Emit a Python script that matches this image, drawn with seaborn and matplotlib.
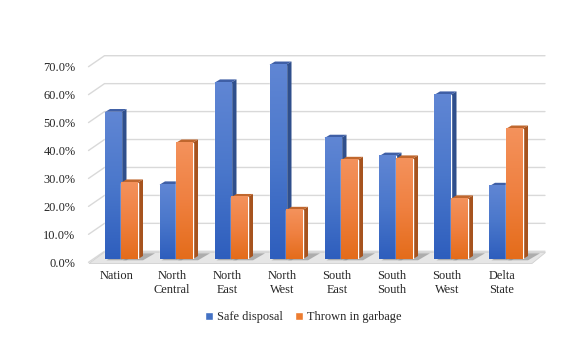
import numpy as np
import pandas as pd
import matplotlib
matplotlib.use("Agg")
import matplotlib.pyplot as plt
import seaborn as sns
from matplotlib.patches import Polygon, Rectangle
from matplotlib.transforms import IdentityTransform, ScaledTranslation
from matplotlib.colors import LinearSegmentedColormap

# ---- data ----
regions = ["Nation", "North\nCentral", "North\nEast", "North\nWest",
           "South\nEast", "South\nSouth", "South\nWest", "Delta\nState"]
safe_disposal = [52.6, 26.7, 63.2, 69.6, 43.4, 37.0, 58.9, 26.2]
thrown_in_garbage = [27.4, 41.7, 22.2, 17.6, 35.5, 36.0, 21.7, 46.7]
series_names = ["Safe disposal", "Thrown in garbage"]
y_ticks = [0, 10, 20, 30, 40, 50, 60, 70]

df = pd.DataFrame({
    "Region": regions * 2,
    "Series": [series_names[0]] * len(regions) + [series_names[1]] * len(regions),
    "Value": safe_disposal + thrown_in_garbage,
})

# ---- style ----
sns.set_theme(style="white")
plt.rcParams["font.family"] = ["Liberation Serif", "DejaVu Serif"]
FS = 8.9

W, H, DPI = 577, 338, 100
fig = plt.figure(figsize=(W / DPI, H / DPI), dpi=DPI)
fig.patch.set_facecolor("white")

# axes = plane of the bar fronts
ax_left, ax_right = 93.5, 533.5
ax_top, ax_bot = 63.7, 259.3
ax = fig.add_axes([ax_left / W, (H - ax_bot) / H, (ax_right - ax_left) / W, (ax_bot - ax_top) / H])
ax.set_facecolor("none")

blue_c = "#4472C4"
orange_c = "#ED7D31"
sns.barplot(data=df, x="Region", y="Value", hue="Series", palette=[blue_c, orange_c],
            width=0.6, ax=ax, saturation=1, errorbar=None)
ax.set_xlim(-0.5, len(regions) - 0.5)
ax.set_ylim(0, 70)
for s in ax.spines.values():
    s.set_visible(False)
ax.set_xlabel("")
ax.set_ylabel("")
ax.set_yticks(y_ticks)
ax.set_yticklabels([f"{v:.1f}%" for v in y_ticks], fontsize=FS)
ax.tick_params(axis="both", length=0)
ax.tick_params(axis="y", pad=13)
ax.tick_params(axis="x", pad=8, labelsize=FS)
ax.grid(False)

# shift tick labels to the front plane
for lab in ax.get_xticklabels():
    lab.set_transform(lab.get_transform() + ScaledTranslation(-4 / DPI, 0, fig.dpi_scale_trans))
for lab in ax.get_yticklabels():
    lab.set_transform(lab.get_transform() + ScaledTranslation(0, -3 / DPI, fig.dpi_scale_trans))

ident = IdentityTransform()

def to_disp(x_top, y_top):
    return (x_top, H - y_top)

# back wall gridlines (left wall slant + back wall horizontal)
for v in y_ticks:
    _, yd = ax.transData.transform((0, v))
    y_front = yd - 3
    y_back = yd + 8
    xs = [ax_left - 5, ax_left + 11, ax_right + 11.5]
    ys = [y_front, y_back, y_back]
    ax.add_line(plt.Line2D(xs, ys, transform=ident, color="#D9D9D9", lw=1.0,
                           clip_on=False, zorder=0.5))

# floor
floor = Polygon([to_disp(89, 263.5), to_disp(532, 263.5), to_disp(545.5, 252.5), to_disp(104, 252.5)],
                closed=True, transform=ident, facecolor="#E6E6E6", edgecolor="#D0D0D0",
                lw=0.6, clip_on=False, zorder=0.8)
ax.add_patch(floor)

# bars: gradients, shadows, side/top faces
bars = [p for p in ax.patches if isinstance(p, Rectangle) and p.get_height() > 0 and p.get_width() > 0]
bars.sort(key=lambda p: p.get_x())
grad = np.linspace(0, 1, 128).reshape(-1, 1)
cmaps = {
    blue_c: LinearSegmentedColormap.from_list("b", ["#2E5EBD", "#4A77CB", "#6086D4"]),
    orange_c: LinearSegmentedColormap.from_list("o", ["#E46C1A", "#EF8040", "#F4925C"]),
}
side_cols = {blue_c: "#2F4F8C", orange_c: "#A6531E"}
top_cols = {blue_c: "#3F5FA6", orange_c: "#C0672E"}
dx, dy = 5.5, 3.3
for k, p in enumerate(bars):
    fc = matplotlib.colors.to_hex(p.get_facecolor())
    key = blue_c if fc.lower() == blue_c.lower() else orange_c
    x0, y0 = ax.transData.transform((p.get_x(), 0))
    x1, y1 = ax.transData.transform((p.get_x() + p.get_width(), p.get_height()))
    z = 2 + 3 * k
    # shadow on the floor
    sh = Polygon([(x0 + 2, y0 - 1), (x1 + dx, y0 - 1), (x1 + dx + 12, y0 + 6), (x0 + 14, y0 + 6)],
                 closed=True, transform=ident, facecolor="#7F7F7F", alpha=0.55,
                 edgecolor="none", clip_on=False, zorder=1)
    ax.add_patch(sh)
    side = Polygon([(x1, y0), (x1 + dx, y0 + dy), (x1 + dx, y1 + dy), (x1, y1)], closed=True,
                   transform=ident, facecolor=side_cols[key], edgecolor="none", clip_on=False, zorder=z)
    top = Polygon([(x0, y1), (x1, y1), (x1 + dx, y1 + dy), (x0 + dx, y1 + dy)], closed=True,
                  transform=ident, facecolor=top_cols[key], edgecolor="none", clip_on=False, zorder=z)
    ax.add_patch(side)
    ax.add_patch(top)
    p.set_zorder(z + 1)
    ax.imshow(grad, cmap=cmaps[key], origin="lower", aspect="auto",
              extent=(p.get_x(), p.get_x() + p.get_width(), 0, p.get_height()),
              zorder=z + 2, interpolation="bilinear")

ax.set_xlim(-0.5, len(regions) - 0.5)
ax.set_ylim(0, 70)

sns.move_legend(ax, "center", bbox_to_anchor=(303 / W, 21 / H), bbox_transform=fig.transFigure,
                ncol=2, frameon=False, title=None, handlelength=0.65, handleheight=0.65,
                handletextpad=0.3, columnspacing=1.0, fontsize=FS)

fig.savefig("out.png", dpi=DPI)
